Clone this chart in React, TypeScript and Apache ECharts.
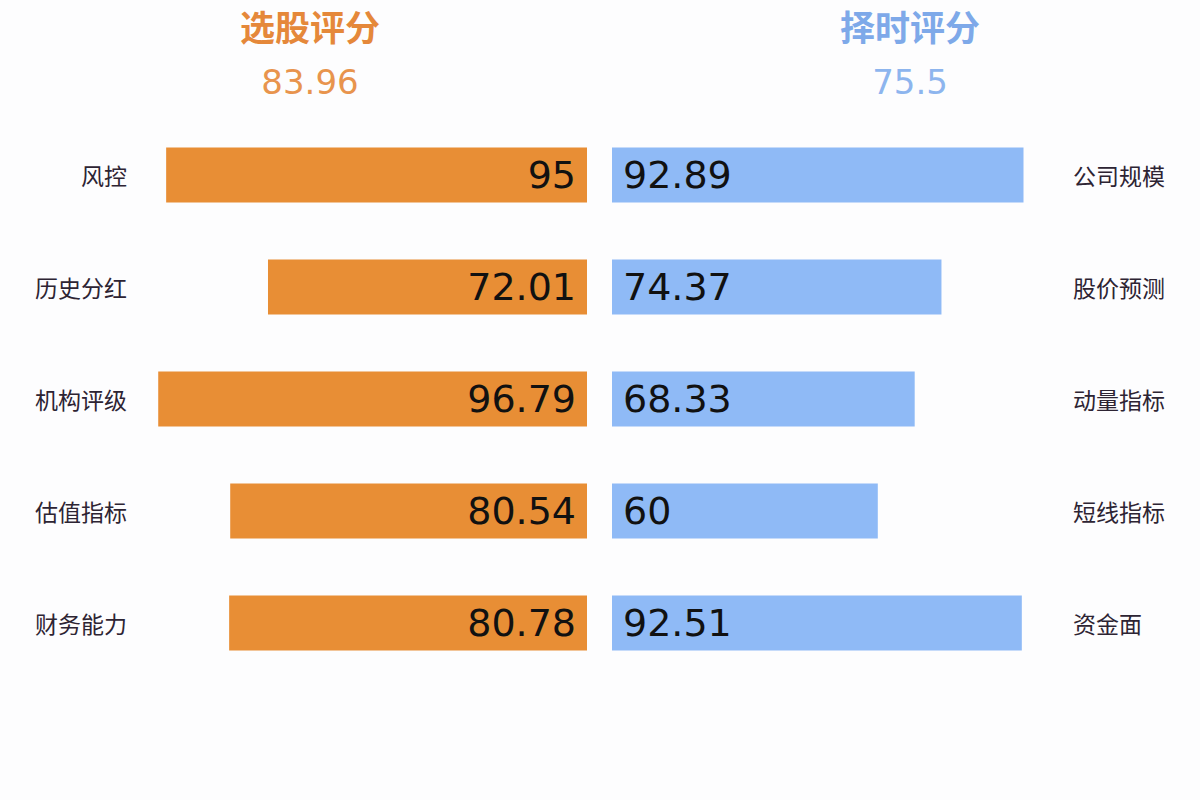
import { useEffect, useRef } from "react";
import * as echarts from "echarts";

const ORANGE = "#E88E35";
const BLUE = "#8FBAF6";
const LABEL = "#2d2433";
const CJK = "Noto Sans CJK SC";

// 左：选股评分
const pickTitle = "选股评分";
const pickScore = "83.96";
const pickCats = ["风控", "历史分红", "机构评级", "估值指标", "财务能力"];
const pickValues = [95, 72.01, 96.79, 80.54, 80.78];

// 右：择时评分
const timeTitle = "择时评分";
const timeScore = "75.5";
const timeCats = ["公司规模", "股价预测", "动量指标", "短线指标", "资金面"];
const timeValues = [92.89, 74.37, 68.33, 60, 92.51];

export default function App() {
  const elRef = useRef<HTMLDivElement>(null);

  useEffect(() => {
    document.body.style.margin = "0";
    const el = elRef.current;
    if (!el) return;
    const chart = echarts.init(el, undefined, { renderer: "svg" });

    const valueLabel = {
      show: true,
      fontSize: 38,
      fontFamily: "DejaVu Sans",
      color: "#111",
    };

    chart.setOption({
      animation: false,
      backgroundColor: "#fdfdfe",
      graphic: [
        {
          type: "text",
          x: 310,
          y: 25,
          style: { text: pickTitle, fontSize: 35, fontWeight: "bold", fontFamily: CJK, fill: "#E5883A", textAlign: "center", textVerticalAlign: "middle" },
        },
        {
          type: "text",
          x: 310,
          y: 82,
          style: { text: pickScore, fontSize: 34, fontFamily: "DejaVu Sans", fill: "#E8944D", textAlign: "center", textVerticalAlign: "middle" },
        },
        {
          type: "text",
          x: 910,
          y: 25,
          style: { text: timeTitle, fontSize: 35, fontWeight: "bold", fontFamily: CJK, fill: "#7EA9E9", textAlign: "center", textVerticalAlign: "middle" },
        },
        {
          type: "text",
          x: 910,
          y: 82,
          style: { text: timeScore, fontSize: 34, fontFamily: "DejaVu Sans", fill: "#8DB5EE", textAlign: "center", textVerticalAlign: "middle" },
        },
      ],
      grid: [
        { left: 144, top: 119, width: 443, height: 560 },
        { left: 612, top: 119, width: 443, height: 560 },
      ],
      xAxis: [
        { type: "value", gridIndex: 0, inverse: true, min: 0, max: 100, show: false },
        { type: "value", gridIndex: 1, min: 0, max: 100, show: false },
      ],
      yAxis: [
        {
          type: "category",
          gridIndex: 0,
          data: pickCats,
          inverse: true,
          position: "left",
          axisLine: { show: false, onZero: false },
          axisTick: { show: false },
          axisLabel: { color: LABEL, fontSize: 23, fontFamily: CJK, margin: 17, padding: [0, 0, 4, 0] },
        },
        {
          type: "category",
          gridIndex: 1,
          data: timeCats,
          inverse: true,
          position: "right",
          axisLine: { show: false, onZero: false },
          axisTick: { show: false },
          axisLabel: { color: LABEL, fontSize: 23, fontFamily: CJK, margin: 18, padding: [0, 0, 4, 0] },
        },
      ],
      series: [
        {
          type: "bar",
          xAxisIndex: 0,
          yAxisIndex: 0,
          data: pickValues,
          barWidth: 55,
          itemStyle: { color: ORANGE },
          label: { ...valueLabel, position: "insideRight", distance: 11 },
        },
        {
          type: "bar",
          xAxisIndex: 1,
          yAxisIndex: 1,
          data: timeValues,
          barWidth: 55,
          itemStyle: { color: BLUE },
          label: { ...valueLabel, position: "insideLeft", distance: 11 },
        },
      ],
    });

    return () => chart.dispose();
  }, []);

  return <div ref={elRef} style={{ width: 1200, height: 800 }} />;
}
